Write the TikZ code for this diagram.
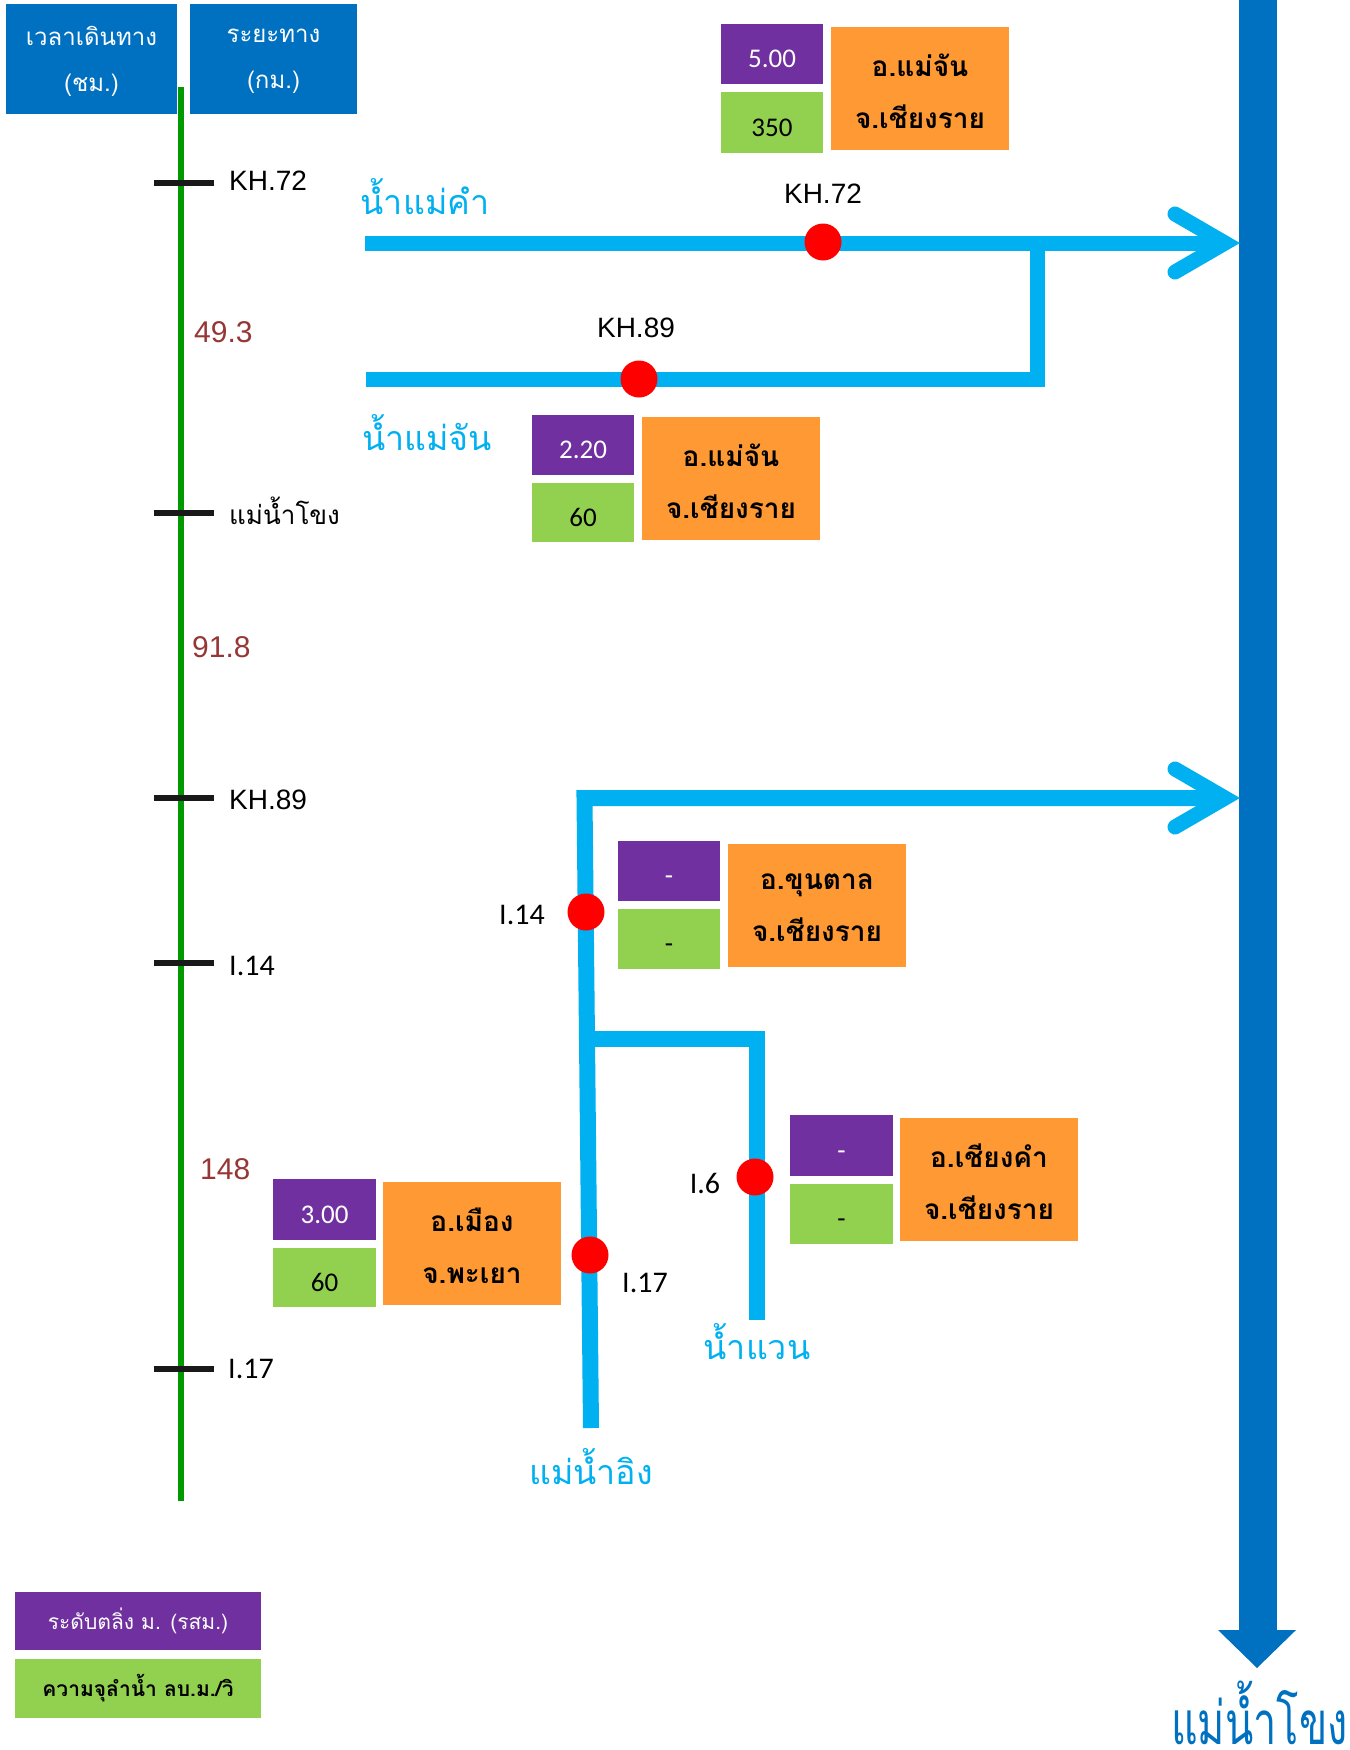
\documentclass[tikz,border=0pt]{standalone}
\usepackage{fontspec}
\setmainfont{Carlito}
\newfontfamily\thai[Script=Thai]{Loma}
\newfontfamily\arialf{Liberation Sans}
\definecolor{cdblue}{HTML}{0070C0}
\definecolor{clblue}{HTML}{00B0F0}
\definecolor{cpurple}{HTML}{7030A0}
\definecolor{cgreen}{HTML}{92D050}
\definecolor{corange}{HTML}{FF9933}
\definecolor{cline}{HTML}{009A00}
\definecolor{cnum}{HTML}{953735}
\tikzset{
  hdrbox/.style={fill=cdblue, inner sep=0, minimum height=110pt},
  hdrtext/.style={text=white, inner sep=0, align=center, yshift=-2.5pt,
    font=\thai\fontsize{24}{46}\selectfont},
  pbox/.style={fill=cpurple, text=white, inner sep=0, minimum width=102pt, minimum height=60pt,
    text height=27pt, text depth=0pt, font=\fontsize{27}{30}\selectfont},
  gbox/.style={fill=cgreen, text=black, inner sep=0, minimum width=102pt, minimum height=60pt,
    text height=27pt, text depth=0pt, font=\fontsize{27}{30}\selectfont},
  obox/.style={fill=corange, inner sep=0, minimum width=178pt, minimum height=123pt},
  otext/.style={text=black, inner sep=0, align=center, yshift=-2.5pt,
    font=\thai\bfseries\fontsize{28}{52}\selectfont},
  reddot/.style={circle, fill=red, minimum size=37pt, inner sep=0},
  river/.style={line width=15pt, draw=clblue, line join=miter},
  chev/.style={line width=15pt, draw=clblue, line cap=round, line join=miter},
  tick/.style={line width=6pt, draw=black!90},
  ticklbl/.style={anchor=west, inner sep=0, font=\arialf\fontsize{28}{30}\selectfont},
  ticklblc/.style={anchor=west, inner sep=0, font=\fontsize{30}{32}\selectfont},
  distlbl/.style={anchor=west, inner sep=0, text=cnum, font=\arialf\fontsize{30}{32}\selectfont},
  rivname/.style={inner sep=0, text=clblue, font=\thai\fontsize{34}{40}\selectfont},
  stlbl/.style={inner sep=0, font=\arialf\fontsize{28}{30}\selectfont},
  stlblc/.style={inner sep=0, font=\fontsize{30}{32}\selectfont},
}
\begin{document}
\begin{tikzpicture}[x=1pt,y=-1pt]
\useasboundingbox (0,0) rectangle (1349,1750);
% header boxes
\node[hdrbox, minimum width=171pt, label={[hdrtext]center:{เวลาเดินทาง\\(ชม.)}}] (h1) at (91.5,59) {};
\node[hdrbox, minimum width=167pt, label={[hdrtext]center:{ระยะทาง\\(กม.)}}] (h2) at (273.5,59) {};
% green distance line
\coordinate (gtop) at (181,87);
\coordinate (gbot) at (181,1501);
\draw[line width=6pt, cline] (gtop) -- (gbot);
% ticks
\foreach \n/\yy in {t1/183, t2/513, t3/798, t4/963, t5/1369}{
  \coordinate (\n L) at (154,\yy);
  \coordinate (\n R) at (214,\yy);
  \draw[tick] (\n L) -- (\n R);
}
\node[ticklbl] (l1) at (229,181) {KH.72};
\node[ticklbl, font=\thai\fontsize{26}{30}\selectfont] (l2) at (229,511) {แม่น้ำโขง};
\node[ticklbl] (l3) at (229,800) {KH.89};
\node[ticklblc] (l4) at (229,966) {I.14};
\node[ticklblc] (l5) at (228,1369) {I.17};
\node[distlbl] (d1) at (194,332) {49.3};
\node[distlbl] (d2) at (192,647) {91.8};
\node[distlbl] (d3) at (200,1169) {148};
% Mekong main stream
\fill[cdblue] (1239,-2) rectangle (1277,1631);
\fill[cdblue] (1218,1630) -- (1296,1630) -- (1257,1668) -- cycle;
\node[inner sep=0, anchor=base west, text=cdblue, font=\thai\fontsize{60}{64}\selectfont] (mk) at (1171,1744) {\scalebox{0.69}[1]{แม่น้ำโขง}};
% upper rivers
\coordinate (r1s) at (365,243);
\coordinate (a1) at (1225,243);
\coordinate (r2s) at (366,379);
\coordinate (j1) at (1037,379);
\coordinate (j1t) at (1037,243);
\draw[river] (r1s) -- (a1);
\draw[river] (r2s) -- (j1) -- (j1t);
\draw[chev] (a1) ++(-50,-29) -- (a1) -- ++(-50,29);
% lower rivers
\coordinate (ingb) at (591,1428);
\coordinate (ingt) at (584.5,798);
\coordinate (a2) at (1225,798);
\coordinate (wj) at (588,1039);
\coordinate (wc) at (757,1039);
\coordinate (wb) at (757,1320);
\draw[river, line width=16pt] (ingb) -- (ingt) -- (a2);
\draw[river, line width=16pt] (wj) -- (wc) -- (wb);
\draw[chev] (a2) ++(-50,-29) -- (a2) -- ++(-50,29);
% river names
\node[rivname] (n1) at (425,197) {น้ำแม่คำ};
\node[rivname] (n2) at (427,433) {น้ำแม่จัน};
\node[rivname] (n3) at (757,1342) {น้ำแวน};
\node[rivname] (n4) at (591,1467) {แม่น้ำอิง};
% stations
\node[reddot] (s1) at (823,242) {};
\node[reddot] (s2) at (639,379) {};
\node[reddot] (s3) at (586,912) {};
\node[reddot] (s4) at (590,1255) {};
\node[reddot] (s5) at (755,1177) {};
\node[stlbl] (s1l) at (823,194) {KH.72};
\node[stlbl] (s2l) at (636,328) {KH.89};
\node[stlblc] (s3l) at (522,915) {I.14};
\node[stlblc] (s4l) at (645,1283) {I.17};
\node[stlblc] (s5l) at (705,1183) {I.6};
% info boxes
\node[pbox] (p1) at (772,54) {5.00};
\node[gbox, minimum height=61pt] (g1) at (772,122.5) {350};
\node[obox, label={[otext]center:{อ.แม่จัน\\จ.เชียงราย}}] (o1) at (920,88.5) {};
\node[pbox] (p2) at (583,444.5) {2.20};
\node[gbox, minimum height=59pt] (g2) at (583,512.5) {60};
\node[obox, label={[otext]center:{อ.แม่จัน\\จ.เชียงราย}}] (o2) at (731,478.5) {};
\node[pbox] (p3) at (669,870.5) {-};
\node[gbox] (g3) at (669,939) {-};
\node[obox, label={[otext]center:{อ.ขุนตาล\\จ.เชียงราย}}] (o3) at (817,905.5) {};
\node[pbox, minimum width=103pt, minimum height=61pt] (p5) at (841.5,1145.5) {-};
\node[gbox, minimum width=103pt] (g5) at (841.5,1214) {-};
\node[obox, label={[otext]center:{อ.เชียงคำ\\จ.เชียงราย}}] (o5) at (989,1179.5) {};
\node[pbox, minimum width=103pt, minimum height=61pt] (p4) at (324.5,1209.5) {3.00};
\node[gbox, minimum width=103pt, minimum height=59pt] (g4) at (324.5,1277.5) {60};
\node[obox, label={[otext]center:{อ.เมือง\\จ.พะเยา}}] (o4) at (472,1243.5) {};
% legend
\node[fill=cpurple, text=white, inner sep=0, minimum width=246pt, minimum height=58pt,
  font=\thai\fontsize{21}{24}\selectfont] (lg1) at (138,1621) {ระดับตลิ่ง ม. (รสม.)};
\node[fill=cgreen, text=black, inner sep=0, minimum width=246pt, minimum height=59pt,
  font=\thai\bfseries\fontsize{21}{24}\selectfont] (lg2) at (138,1688.5) {ความจุลำน้ำ ลบ.ม./วิ};
\end{tikzpicture}
\end{document}
